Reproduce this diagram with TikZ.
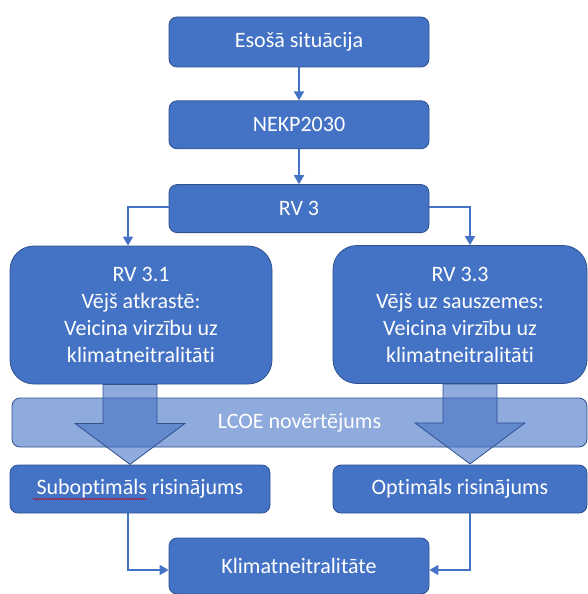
\documentclass[tikz,border=0pt]{standalone}
\usepackage{fontspec}
\setmainfont{Carlito}[Ligatures=NoCommon]
\usetikzlibrary{positioning,arrows.meta,decorations.pathmorphing}
\definecolor{boxblue}{HTML}{4472C4}
\definecolor{edgeblue}{HTML}{2F528F}
\definecolor{bandblue}{HTML}{8FAADC}
\tikzset{>={Triangle[width=10pt,length=9pt]}}

\begin{document}
\begin{tikzpicture}[x=1pt, y=-1pt,
font=\fontsize{22}{27}\selectfont,
block/.style = {draw=edgeblue, fill=boxblue, text=white,
                line width=0.8pt, rounded corners=8pt,
                minimum height=#1, inner sep=0pt,
                align=center},
block/.default = 48pt,
bigblock/.style = {block=138pt, rounded corners=24pt},
link/.style = {->, draw=boxblue, line width=1.8pt},
fatarrow/.style = {draw=edgeblue, fill=boxblue, fill opacity=0.6,
                   line width=0.8pt},
node distance = 33pt,
]
        \useasboundingbox (0,0) rectangle (588,594);
        \clip (0,0) rectangle (588,594);
        % top chain
        \node (sit)  [block=50pt, minimum width=260pt] at (299,42) {Esošā situācija};
        \node (nekp) [block, minimum width=260pt, below=of sit] {NEKP2030};
        \node (rv3)  [block, minimum width=260pt, below=35pt of nekp] {RV 3};
        \draw[link] (sit) -- (nekp);
        \draw[link] (nekp) -- (rv3);
        % two branches
        \node (rv31) [bigblock, minimum width=262pt] at (141,315)
                     {RV 3.1\\Vējš atkrastē:\\Veicina virzību uz\\klimatneitralitāti};
        \node (rv33) [bigblock, minimum width=254pt] at (460,314.5)
                     {RV 3.3\\Vējš uz sauszemes:\\Veicina virzību uz\\klimatneitralitāti};
        \draw[link] ([yshift=2pt]rv3.west) -| ([xshift=-13pt]rv31.north);
        \draw[link] ([yshift=2pt]rv3.east) -| ([xshift=10pt]rv33.north);
        % assessment band
        \node (lcoe) [block=49pt, minimum width=575pt, fill=bandblue]
                     at (299.5,422.5) {LCOE novērtējums};
        \foreach \src/\dx in {rv31/-11, rv33/10}
            \draw[fatarrow] ([xshift=\dx pt]\src.south) ++(-27,0)
                -- ++(0,39) -- ++(-28,0) -- ++(55,41) -- ++(55,-41)
                -- ++(-28,0) -- ++(0,-39) -- cycle;
        % results
        \node (subopt) [block, minimum width=260pt] at (140,489) {Suboptimāls risinājums};
        \node (optim)  [block, minimum width=254pt] at (460,489) {Optimāls risinājums};
        \draw[red!80!black, line width=0.5pt, decorate,
              decoration={snake, amplitude=0.6pt, segment length=2.5pt}]
              (33,499) -- (147,499);
        \node (klimat) [block=56pt, minimum width=260pt] at (299,566) {Klimatneitralitāte};
        \draw[link] ([xshift=-12pt]subopt.south) |- ([yshift=-4pt]klimat.west);
        \draw[link] ([xshift=10pt]optim.south) |- ([yshift=-4pt]klimat.east);
\end{tikzpicture}
\end{document}
